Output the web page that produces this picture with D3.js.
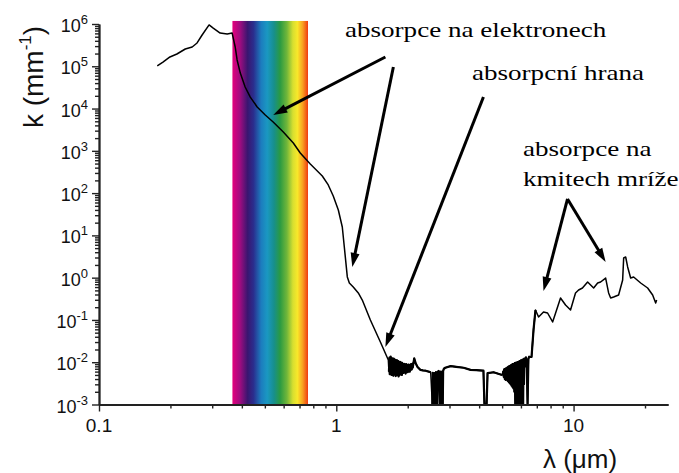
<!DOCTYPE html>
<html><head><meta charset="utf-8">
<script src="https://cdn.jsdelivr.net/npm/d3@7"></script>
<style>body{margin:0;background:#fff}svg{display:block}</style>
</head><body>
<svg id="c" width="679" height="473"></svg>
<script>
// ---- data: wavelength (µm) and absorption coefficient k (mm^-1) ----
const uvLambda = [0.176,0.186,0.199,0.213,0.231,0.247,0.259,0.272,0.291,0.303,0.324,0.347,0.364,0.375,0.382,0.394,0.413,0.434,0.464,0.502,0.542,0.598,0.659,0.705,0.777,0.873,0.925,0.971,1.02,1.06,1.081,1.113,1.135,1.179,1.238,1.287,1.392,1.534,1.657];
const uvK      = [1.02e5,1.26e5,1.66e5,1.95e5,2.56e5,2.86e5,3.56e5,5.5e5,9.5e5,8.0e5,6.1e5,5.8e5,6.1e5,2.86e5,1.41e5,6.9e4,3.24e4,1.87e4,1.09e4,7.05e3,4.81e3,2.79e3,1.53e3,889,489,254,156,85.5,39.9,15.8,5.32,1.04,0.748,0.603,0.435,0.296,0.0998,0.0301,0.0113];

const edgeLambda = [1.667,1.675,1.68,1.685,1.69,1.695,1.70,1.705,1.71,1.715,1.72,1.725,1.73,1.735,1.74,1.745,1.75,1.755,1.76,1.765,1.77,1.775,1.78,1.785,1.79,1.795,1.80,1.805,1.81,1.815,1.82,1.825,1.83,1.835,1.84,1.845,1.85,1.855,1.86,1.865,1.87,1.875,1.88,1.885,1.89,1.895,1.90,1.91,1.92,1.93,1.94,1.95,1.96,1.97,1.98,1.99,2.00,2.01,2.02,2.03,2.04,2.05,2.06,2.07,2.08,2.09,2.10,2.13,2.16,2.20,2.26,2.32,2.38,2.45,2.50];
const edgeK      = [0.0060,0.0128,0.0052,0.0120,0.0070,0.0135,0.0058,0.0115,0.0050,0.0125,0.0064,0.0118,0.0055,0.0110,0.0048,0.0122,0.0060,0.0108,0.0052,0.0116,0.0066,0.0104,0.0047,0.0112,0.0058,0.0100,0.0050,0.0110,0.0062,0.0098,0.0054,0.0106,0.0046,0.0100,0.0060,0.0094,0.0050,0.0102,0.0058,0.0096,0.0052,0.0098,0.0060,0.0092,0.0050,0.0096,0.0062,0.0090,0.0056,0.0092,0.0060,0.0088,0.0054,0.0090,0.0062,0.0086,0.0058,0.0088,0.0064,0.0086,0.0060,0.0088,0.0066,0.0090,0.0068,0.0092,0.0075,0.0123,0.0095,0.0077,0.0066,0.0064,0.0063,0.0060,0.0058];

const midLambda = [2.54,2.55,2.56,2.57,2.58,2.59,2.60,2.61,2.62,2.63,2.64,2.65,2.66,2.68,2.70,2.72,2.73,2.74,2.75,2.76,2.77,2.78,2.79,2.80,2.81,2.82,2.84,2.88,3.03,3.20,3.44,3.68,3.90,4.17,4.21,4.30,4.34,4.60,5.00];
const midK      = [0.001,0.0056,0.001,0.0050,0.001,0.0055,0.001,0.0052,0.001,0.0058,0.001,0.0054,0.001,0.0060,0.0062,0.0058,0.001,0.0056,0.001,0.0060,0.001,0.0054,0.001,0.0060,0.001,0.0062,0.0070,0.0074,0.0081,0.0078,0.0074,0.0066,0.0065,0.0063,0.001,0.001,0.0055,0.0058,0.0050];

const noiseLambda = [5.05,5.08,5.10,5.13,5.15,5.18,5.20,5.23,5.25,5.28,5.30,5.33,5.35,5.38,5.40,5.43,5.45,5.48,5.50,5.53,5.55,5.58,5.60,5.63,5.65,5.68,5.70,5.73,5.75,5.78,5.80,5.83,5.85,5.88,5.90,5.93,5.95,5.98,6.00,6.03,6.05,6.08,6.10,6.13,6.15,6.18,6.20,6.25,6.30,6.35,6.40,6.45,6.50,6.55,6.65,6.78,6.91];
const noiseK      = [0.0062,0.0045,0.0068,0.0040,0.0070,0.0038,0.0072,0.0040,0.0075,0.0036,0.0078,0.0034,0.0080,0.0032,0.0082,0.0030,0.0085,0.0028,0.0088,0.0026,0.0090,0.0024,0.0092,0.0020,0.0095,0.001,0.0096,0.001,0.0098,0.001,0.0100,0.0015,0.0102,0.001,0.0105,0.0020,0.0108,0.001,0.0110,0.001,0.0112,0.001,0.0115,0.001,0.0118,0.0030,0.0122,0.0080,0.0130,0.0085,0.001,0.0120,0.0135,0.0133,0.0133,0.058,0.172];

const irLambda = [7.12,7.47,7.77,8.16,8.40,8.81,9.25,9.71,10.19,10.5,10.9,11.46,11.8,12.15,12.63,13.0,13.65,14.05,14.33,14.75,15.48,16.1,16.26,16.58,16.9,17.4,17.91,19.18,20.52,21.54,22.18,22.39];
const irK      = [0.1175,0.154,0.146,0.0895,0.146,0.330,0.226,0.172,0.435,0.512,0.570,0.791,0.671,0.570,0.748,0.791,0.98,0.435,0.330,0.349,0.39,0.88,2.92,3.08,1.79,0.98,1.04,0.748,0.570,0.39,0.252,0.296];

const visibleRange = [0.365, 0.76];        // µm, spectrum band
const bandK = [1e-3, 1.18e6];
const xMajor = [0.1, 1, 10];
const xMajorLabels = ["0.1", "1", "10"];
const xMinor = [0.2,0.3,0.4,0.5,0.6,0.7,0.8,0.9,2,3,4,5,6,7,8,9,20];
const yExponents = [-3,-2,-1,0,1,2,3,4,5,6];

// arrows in data space [tailλ, tailK, tipλ, tipK]
const arrows = [
  [1.61, 1.66e5, 0.5424, 7.05e3],
  [1.74, 9.6e4, 1.168, 1.79],
  [4.17, 1.87e4, 1.61, 0.0229],
  [9.43, 72.6, 7.47, 0.484],
  [9.43, 72.6, 13.65, 2.35]
];

// ---- chart ----
const SANS = "Liberation Sans", SERIF = "Liberation Serif";
const svg = d3.select("#c");
const x = d3.scaleLog().domain([0.1, 25]).range([99, 668]);
const y = d3.scaleLog().domain([1e-3, 1e6]).range([404.5, 24]);

const defs = svg.append("defs");
const grad = defs.append("linearGradient").attr("id","vis").attr("x1","0").attr("x2","1").attr("y1","0").attr("y2","0");
const stops = [[0,"#e4007c"],[0.1,"#a00c80"],[0.2,"#3a1670"],[0.28,"#2a2e8e"],[0.38,"#1c7cbe"],[0.46,"#1a98c2"],[0.55,"#178f8c"],[0.63,"#2a9a42"],[0.72,"#70b63a"],[0.8,"#d6df30"],[0.86,"#f8e82a"],[0.93,"#f8a020"],[1,"#f03a10"]];
stops.forEach(s=>grad.append("stop").attr("offset",s[0]).attr("stop-color",s[1]));

svg.append("rect")
  .attr("x", x(visibleRange[0])).attr("width", x(visibleRange[1]) - x(visibleRange[0]))
  .attr("y", y(bandK[1])).attr("height", y(bandK[0]) - y(bandK[1]))
  .attr("fill","url(#vis)");

// curve
const line = d3.line().x(d=>x(d[0])).y(d=>y(d[1]));
const zipPts = (L,K)=>L.map((l,i)=>[l,K[i]]);
const allPts = zipPts([].concat(uvLambda, edgeLambda, midLambda, noiseLambda, irLambda), [].concat(uvK, edgeK, midK, noiseK, irK));
svg.append("path").datum(allPts).attr("d", line)
  .attr("fill","none").attr("stroke","#000").attr("stroke-width",1.5).attr("stroke-linejoin","round");
[[edgeLambda,edgeK],[midLambda,midK],[noiseLambda,noiseK]].forEach(s=>{
  svg.append("path").datum(zipPts(s[0],s[1])).attr("d", line)
    .attr("fill","none").attr("stroke","#000").attr("stroke-width",2.2).attr("stroke-linejoin","round");
});

// axes
const axCol = "#222";
function styleAxis(g){ g.select(".domain").attr("stroke",axCol).attr("stroke-width",1.8); g.selectAll(".tick line").attr("stroke",axCol).attr("stroke-width",1.4); g.selectAll(".tick text").remove(); }
const yMinor = [];
for (let e=-3;e<6;e++) for (let d=2; d<=9; d++) yMinor.push(d*Math.pow(10,e));
svg.append("g").attr("transform","translate(99,0)")
  .call(d3.axisLeft(y).tickValues(yMinor).tickSize(4).tickSizeOuter(0)).call(styleAxis);
svg.append("g").attr("transform","translate(99,0)")
  .call(d3.axisLeft(y).tickValues(yExponents.map(e=>Math.pow(10,e))).tickSize(7).tickSizeOuter(0)).call(styleAxis);
svg.append("g").attr("transform","translate(0,404.5)")
  .call(d3.axisBottom(x).tickValues(xMinor).tickSize(4).tickSizeOuter(0)).call(styleAxis);
svg.append("g").attr("transform","translate(0,404.5)")
  .call(d3.axisBottom(x).tickValues(xMajor).tickSize(7).tickSizeOuter(0)).call(styleAxis);

// y tick labels
yExponents.forEach(e=>{
  const t = svg.append("text").attr("x", 88).attr("y", y(Math.pow(10,e)) + 8)
    .attr("text-anchor","end").style("font-family",SANS).style("font-size","18px").attr("fill","#111");
  t.append("tspan").text("10");
  t.append("tspan").attr("dy",-8).style("font-size","13px").text(String(e));
});
// x tick labels
xMajor.forEach((v,i)=>{
  svg.append("text").attr("x", x(v)).attr("y", 432).attr("text-anchor","middle")
    .style("font-family",SANS).style("font-size","19px").attr("fill","#111").text(xMajorLabels[i]);
});

// axis titles
const yl = svg.append("text").attr("transform","translate(43,77) rotate(-90)").attr("text-anchor","middle")
  .style("font-family",SANS).style("font-size","28px").attr("fill","#111");
yl.append("tspan").text("k (mm");
yl.append("tspan").attr("dy",-12).style("font-size","17px").text("-1");
yl.append("tspan").attr("dy",12).text(")");
svg.append("text").attr("x", 580).attr("y", 468).attr("text-anchor","middle")
  .style("font-family",SANS).style("font-size","26px").attr("fill","#111").text("λ (μm)");

// annotation texts
const notes = [
  ["absorpce na elektronech", 345, 37],
  ["absorpcní hrana", 472, 80],
  ["absorpce na", 523, 156],
  ["kmitech mríže", 523, 186]
];
notes.forEach(n=>{
  svg.append("text").attr("transform",`translate(${n[1]},${n[2]}) scale(1.23,1)`)
    .style("font-family",SERIF).style("font-size","22px").attr("fill","#000").text(n[0]);
});

// arrows
arrows.forEach(a=>{
  const x1=x(a[0]), y1=y(a[1]), x2=x(a[2]), y2=y(a[3]);
  const dx=x2-x1, dy=y2-y1, L=Math.hypot(dx,dy), ux=dx/L, uy=dy/L;
  const hl=14, hw=4.5;
  const bx=x2-ux*hl, by=y2-uy*hl;
  svg.append("line").attr("x1",x1).attr("y1",y1).attr("x2",bx+ux*3).attr("y2",by+uy*3)
    .attr("stroke","#000").attr("stroke-width",3);
  svg.append("polygon").attr("points",[[x2,y2],[bx-uy*hw,by+ux*hw],[bx+uy*hw,by-ux*hw]].map(p=>p.join(",")).join(" "))
    .attr("fill","#000");
});
</script>
</body></html>
